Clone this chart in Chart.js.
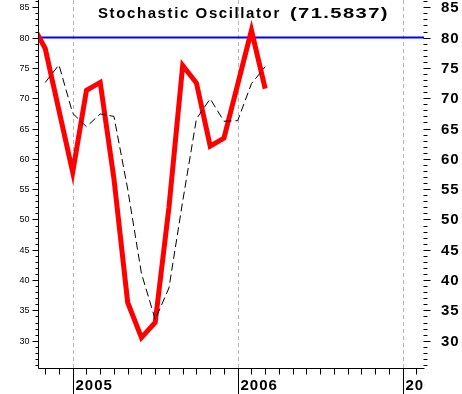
<!DOCTYPE html>
<html>
<head>
<meta charset="utf-8">
<script src="https://cdn.jsdelivr.net/npm/chart.js@4.4.0/dist/chart.umd.min.js"></script>
<style>
  html, body { margin: 0; padding: 0; background: #fff; }
  #wrap { width: 462px; height: 394px; position: relative; }
</style>
</head>
<body>
<div id="wrap"><canvas id="stoch"></canvas></div>
<script>
// monthly readings, first month Oct 2004
const months = ['Oct 2004','Nov 2004','Dec 2004','Jan 2005','Feb 2005','Mar 2005','Apr 2005','May 2005','Jun 2005',
                'Jul 2005','Aug 2005','Sep 2005','Oct 2005','Nov 2005','Dec 2005','Jan 2006','Feb 2006','Mar 2006'];
const pctK = [82.4, 78.2, 68.0, 57.8, 71.3, 72.6, 56.7, 36.3, 30.5, 33.0, 52.0, 75.4, 72.5, 62.1, 63.4, 72.3, 81.2, 71.5837];
const pctD = [null, 72.6, 75.5, 67.5, 65.3, 67.4, 67.0, 55.0, 41.1, 33.5, 38.7, 53.0, 66.6, 69.9, 66.2, 66.3, 72.4, 75.2];
const yearLabels = ['2005', '2006', '2007'];
const yTickLabels = [30, 35, 40, 45, 50, 55, 60, 65, 70, 75, 80, 85];
const overbought = 80;

const startYear = 2004, startMonth = 9; // Oct
const yearIndex = y => (Number(y) - startYear) * 12 - startMonth;

const xMin = 0.476, xMax = 28.55;
const yMin = 25.5, yMax = 86.2;

const axesPlugin = {
    id: 'axesPlugin',
    beforeDatasetsDraw(chart) {
        const { ctx, chartArea: a, scales: { x } } = chart;
        ctx.save();
        ctx.strokeStyle = '#b4b4b4';
        ctx.lineWidth = 1;
        ctx.setLineDash([4, 3]);
        yearLabels.forEach(y => {
            const px = Math.round(x.getPixelForValue(yearIndex(y))) + 0.5;
            ctx.beginPath();
            ctx.moveTo(px, a.top);
            ctx.lineTo(px, a.bottom);
            ctx.stroke();
        });
        ctx.restore();
    },
    afterDraw(chart) {
        const { ctx, chartArea: a, scales: { x, y } } = chart;
        ctx.save();
        ctx.strokeStyle = '#000';
        ctx.fillStyle = '#000';
        ctx.lineWidth = 1;
        const L = Math.round(a.left) + 0.5, R = Math.round(a.right) - 0.5, B = Math.round(a.bottom) + 0.5;

        ctx.beginPath();
        ctx.moveTo(L, 0); ctx.lineTo(L, B);
        ctx.lineTo(R + 1, B);
        ctx.stroke();

        // y ticks, both sides
        for (let v = Math.ceil(yMin); v <= Math.floor(yMax); v++) {
            const py = Math.round(y.getPixelForValue(v)) + 0.5;
            const major = v % 5 === 0;
            ctx.beginPath();
            ctx.moveTo(L - (major ? 6 : 3), py); ctx.lineTo(L, py);
            ctx.moveTo(R, py); ctx.lineTo(R + (major ? 7 : 4), py);
            ctx.stroke();
        }
        ctx.textBaseline = 'middle';
        yTickLabels.forEach(v => {
            const py = Math.round(y.getPixelForValue(v));
            ctx.letterSpacing = '0px';
            ctx.font = '9px "Liberation Sans", Arial, sans-serif';
            ctx.textAlign = 'right';
            ctx.fillText(String(v), L - 9, py + 1);
            ctx.letterSpacing = '1px';
            ctx.font = 'bold 15px "Liberation Sans", Arial, sans-serif';
            ctx.textAlign = 'left';
            ctx.fillText(String(v), 441, py + 1);
        });

        // month ticks and year labels
        for (let k = Math.ceil(xMin); k <= Math.floor(xMax); k++) {
            const px = Math.round(x.getPixelForValue(k)) + 0.5;
            ctx.beginPath();
            ctx.moveTo(px, B); ctx.lineTo(px, B + 6);
            ctx.stroke();
        }
        ctx.save();
        ctx.beginPath();
        ctx.rect(0, B, R + 1, chart.height - B);
        ctx.clip();
        ctx.font = 'bold 15px "Liberation Sans", Arial, sans-serif';
        ctx.letterSpacing = '1px';
        ctx.textAlign = 'left';
        ctx.textBaseline = 'alphabetic';
        yearLabels.forEach(yr => {
            const px = Math.round(x.getPixelForValue(yearIndex(yr))) + 0.5;
            ctx.beginPath();
            ctx.moveTo(px, B); ctx.lineTo(px, chart.height);
            ctx.stroke();
            ctx.fillText(yr, px + 2, B + 21);
        });
        ctx.restore();

        // title: name, then last %K reading (wide digits)
        ctx.font = 'bold 15px "Liberation Sans", Arial, sans-serif';
        ctx.textAlign = 'left';
        ctx.textBaseline = 'middle';
        ctx.letterSpacing = '1.6px';
        ctx.fillText('Stochastic Oscillator', 98, 14);
        ctx.letterSpacing = '1px';
        ctx.save();
        ctx.translate(290, 14);
        ctx.scale(1.35, 1);
        ctx.fillText('(' + pctK[pctK.length - 1].toFixed(4) + ')', 0, 0);
        ctx.restore();
        ctx.restore();
    }
};

new Chart(document.getElementById('stoch'), {
    type: 'line',
    data: {
        datasets: [
            {
                label: '%D',
                data: pctD.map((v, i) => ({ x: i, y: v })),
                borderColor: '#000',
                borderWidth: 1,
                borderDash: [8, 4],
                pointRadius: 0,
                tension: 0,
                order: 1
            },
            {
                label: '%K',
                data: pctK.map((v, i) => ({ x: i, y: v })),
                borderColor: '#ff0000',
                borderWidth: 5,
                pointRadius: 0,
                tension: 0,
                order: 2
            },
            {
                label: 'Overbought',
                data: [{ x: xMin, y: overbought }, { x: xMax, y: overbought }],
                borderColor: '#0000ff',
                borderWidth: 2,
                pointRadius: 0,
                order: 3
            }
        ]
    },
    options: {
        responsive: true,
        maintainAspectRatio: false,
        animation: false,
        layout: { padding: { left: 38, right: 38, top: 0, bottom: 26 } },
        scales: {
            x: { type: 'linear', min: xMin, max: xMax, display: false },
            y: { min: yMin, max: yMax, display: false }
        },
        plugins: { legend: { display: false }, tooltip: { enabled: false }, title: { display: false } }
    },
    plugins: [axesPlugin]
});
</script>
</body>
</html>
